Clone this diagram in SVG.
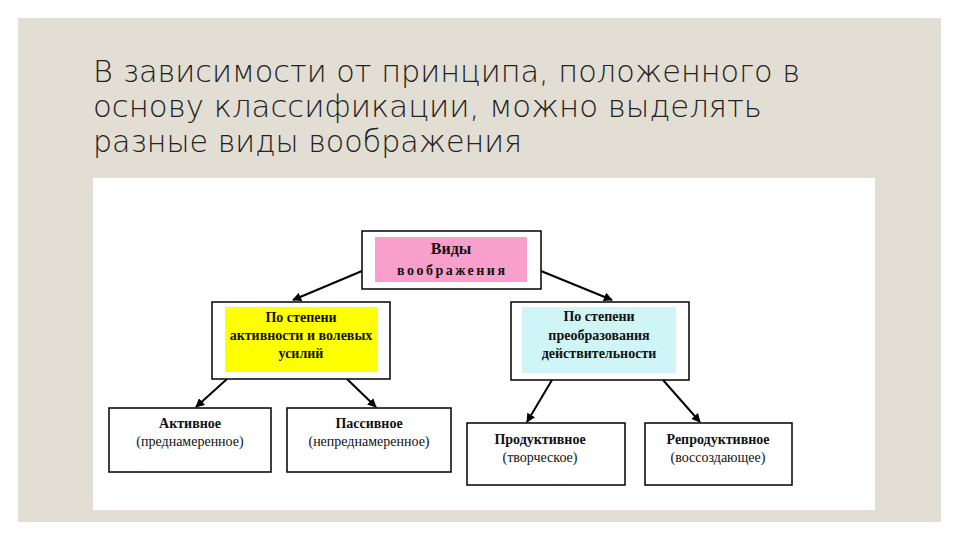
<svg xmlns="http://www.w3.org/2000/svg" width="960" height="540" viewBox="0 0 960 540">
<defs>
<marker id="ah" viewBox="0 0 10 10" refX="9" refY="5" markerWidth="9" markerHeight="9" markerUnits="userSpaceOnUse" orient="auto">
<path d="M0,0 L10,5 L0,10 z" fill="#000"/>
</marker>
</defs>
<style>
.title{font-family:"Century Gothic","URW Gothic","DejaVu Sans","Liberation Sans",sans-serif;font-size:30px;fill:#222;font-weight:300}
.box{fill:#fff;stroke:#000;stroke-width:1.5}
.t{font-family:"Liberation Serif","Times New Roman",serif;font-size:14px;fill:#111;text-anchor:middle}
.b{font-weight:bold}
.conn line{stroke:#000;stroke-width:2;marker-end:url(#ah)}
</style>
<rect x="0" y="0" width="960" height="540" fill="#fff"/>
<rect x="18" y="18" width="923" height="504" fill="#e2ded4"/>
<text class="title" x="93" y="82" textLength="707" lengthAdjust="spacingAndGlyphs">В зависимости от принципа, положенного в</text>
<text class="title" x="93" y="117" textLength="669" lengthAdjust="spacingAndGlyphs">основу классификации, можно выделять</text>
<text class="title" x="93" y="152" textLength="429" lengthAdjust="spacingAndGlyphs">разные виды воображения</text>
<rect x="93" y="178" width="782" height="332" fill="#fff"/>

<g id="root">
<rect class="box" x="362" y="231" width="179" height="58"/>
<rect x="375" y="237" width="152" height="45" fill="#f99fcc"/>
<text class="t b" x="451" y="254" style="font-size:16px">Виды</text>
<text class="t b" x="451" y="275" textLength="108" style="font-size:14px">воображения</text>
</g>
<g id="activity">
<rect class="box" x="212" y="302" width="178" height="77"/>
<rect x="225" y="307" width="153" height="65" fill="#ffff00"/>
<text class="t b" x="301" y="322">По степени</text>
<text class="t b" x="301" y="340">активности и волевых</text>
<text class="t b" x="301" y="358">усилий</text>
</g>
<g id="transform">
<rect class="box" x="511" y="302" width="178" height="78"/>
<rect x="522" y="307" width="154" height="66" fill="#cff5f7"/>
<text class="t b" x="599" y="321">По степени</text>
<text class="t b" x="599" y="340">преобразования</text>
<text class="t b" x="599" y="358">действительности</text>
</g>
<g id="active">
<rect class="box" x="109" y="408" width="162" height="64"/>
<text class="t b" x="190" y="428">Активное</text>
<text class="t" x="190" y="446">(преднамеренное)</text>
</g>
<g id="passive">
<rect class="box" x="287" y="408" width="164" height="64"/>
<text class="t b" x="369" y="428">Пассивное</text>
<text class="t" x="369" y="446">(непреднамеренное)</text>
</g>
<g id="productive">
<rect class="box" x="467" y="423" width="158" height="62"/>
<text class="t b" x="540" y="444">Продуктивное</text>
<text class="t" x="540" y="462">(творческое)</text>
</g>
<g id="reproductive">
<rect class="box" x="645" y="423" width="147" height="62"/>
<text class="t b" x="718" y="444">Репродуктивное</text>
<text class="t" x="718" y="462">(воссоздающее)</text>
</g>

<g class="conn">
<line x1="362" y1="271" x2="293" y2="300"/>
<line x1="541" y1="271" x2="612" y2="300"/>
<line x1="227" y1="379" x2="196" y2="407"/>
<line x1="347" y1="379" x2="376" y2="407"/>
<line x1="552" y1="380" x2="527" y2="422"/>
<line x1="663" y1="380" x2="700" y2="422"/>
</g>
</svg>
